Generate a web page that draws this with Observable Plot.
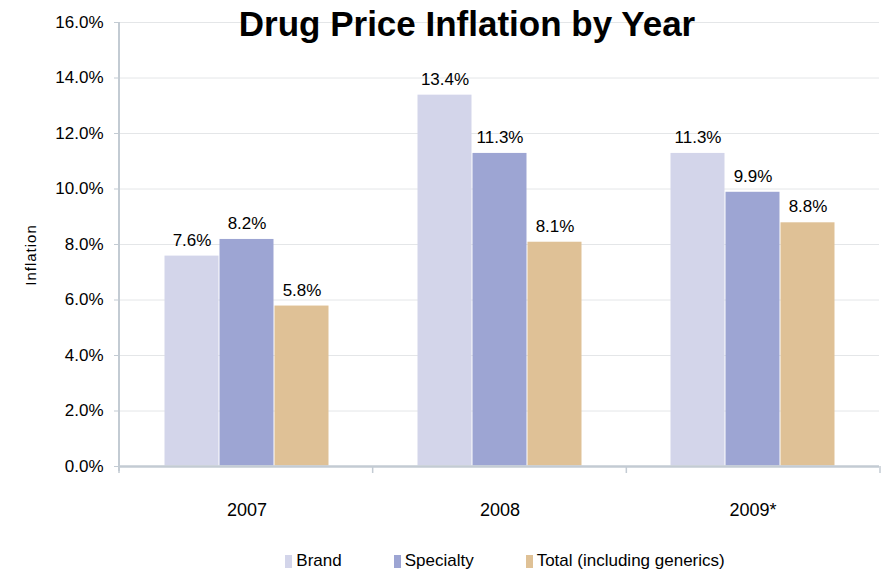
<!DOCTYPE html>
<html><head><meta charset="utf-8">
<script src="https://cdn.jsdelivr.net/npm/d3@7"></script>
<script src="https://cdn.jsdelivr.net/npm/@observablehq/plot@0.6"></script>
<style>
body{margin:0;background:#fff;font-family:"Liberation Sans",Arial,sans-serif;}
#wrap{position:relative;width:884px;height:575px;overflow:hidden;}
#title{position:absolute;left:119px;width:696px;top:4px;text-align:center;font-weight:bold;font-size:35px;color:#000;}
#ylab{position:absolute;left:30px;top:255px;transform:translate(-50%,-50%) rotate(-90deg);font-size:15px;letter-spacing:1px;color:#000;white-space:nowrap;}
#legend{position:absolute;top:551px;left:0;width:1010px;display:flex;justify-content:center;gap:0;font-size:17px;color:#000;}
#legend .it{display:flex;align-items:center;margin:0 26px;}
#legend .sw{width:7px;height:13px;margin-right:4px;}
</style></head>
<body><div id="wrap"><div id="chart"></div><div id="title">Drug Price Inflation by Year</div><div id="ylab">Inflation</div><div id="legend"></div></div>
<script>
const years = ["2007", "2008", "2009*"];
const series = ["Brand", "Specialty", "Total (including generics)"];
const brand = [7.6, 13.4, 11.3];
const specialty = [8.2, 11.3, 9.9];
const total = [5.8, 8.1, 8.8];
const colors = ["#d3d5ea", "#9da5d3", "#dfc196"];
const yTicks = [0, 2, 4, 6, 8, 10, 12, 14, 16];

const values = [brand, specialty, total];
const data = [];
years.forEach((y, i) => series.forEach((s, j) => data.push({year: y, series: s, value: values[j][i]})));

const W = 884, H = 540, ML = 119, MR = 4, MT = 22, MB = 74;
const chart = Plot.plot({
  width: W, height: H,
  marginLeft: ML, marginRight: MR, marginTop: MT, marginBottom: MB,
  style: {fontFamily: '"Liberation Sans", Arial, sans-serif', fontSize: "16px", color: "#000", background: "#fff"},
  fx: {domain: years, paddingInner: 0, paddingOuter: 0, label: null},
  x: {domain: series, paddingInner: 0, paddingOuter: 0.77, axis: null},
  y: {domain: [0, 16], label: null},
  color: {domain: series, range: colors},
  marks: [
    Plot.gridY(yTicks.slice(1), {stroke: "#e4e6e8", strokeOpacity: 1, strokeWidth: 1}),
    Plot.barY(data, {fx: "year", x: "series", y: "value", fill: "series", inset: 0.5}),
    Plot.text(data, {fx: "year", x: "series", y: "value", text: d => d.value.toFixed(1) + "%", lineAnchor: "bottom", dy: -10, fontSize: 17, fill: "#000"}),
    Plot.ruleY([0], {stroke: "#c3cbd3", strokeWidth: 2.5}),
    Plot.axisY(yTicks, {tickFormat: d => d.toFixed(1) + "%", tickSize: 6, tickPadding: 11, stroke: "#c3cbd3", fontSize: 17, label: null}),
    Plot.axisFx({anchor: "bottom", tickSize: 0, tickPadding: 37, fontSize: 18, label: null})
  ]
});
document.getElementById("chart").appendChild(chart);

// axis lines (left axis and category boundary ticks)
const svg = d3.select(chart);
const y0 = H - MB, yTop = MT;
const plotW = W - ML - MR;
svg.append("line").attr("x1", ML).attr("x2", ML).attr("y1", yTop).attr("y2", y0 + 5)
  .attr("stroke", "#c3cbd3").attr("stroke-width", 2);
for (let i = 0; i <= years.length; i++) {
  const x = ML + i * plotW / years.length;
  svg.append("line").attr("x1", x).attr("x2", x).attr("y1", y0).attr("y2", y0 + 7)
    .attr("stroke", "#c3cbd3").attr("stroke-width", 1.5);
}

const lg = document.getElementById("legend");
series.forEach((s, i) => {
  const it = document.createElement("div"); it.className = "it";
  const sw = document.createElement("div"); sw.className = "sw"; sw.style.background = colors[i];
  const t = document.createElement("span"); t.textContent = s;
  it.appendChild(sw); it.appendChild(t); lg.appendChild(it);
});
</script></body></html>
